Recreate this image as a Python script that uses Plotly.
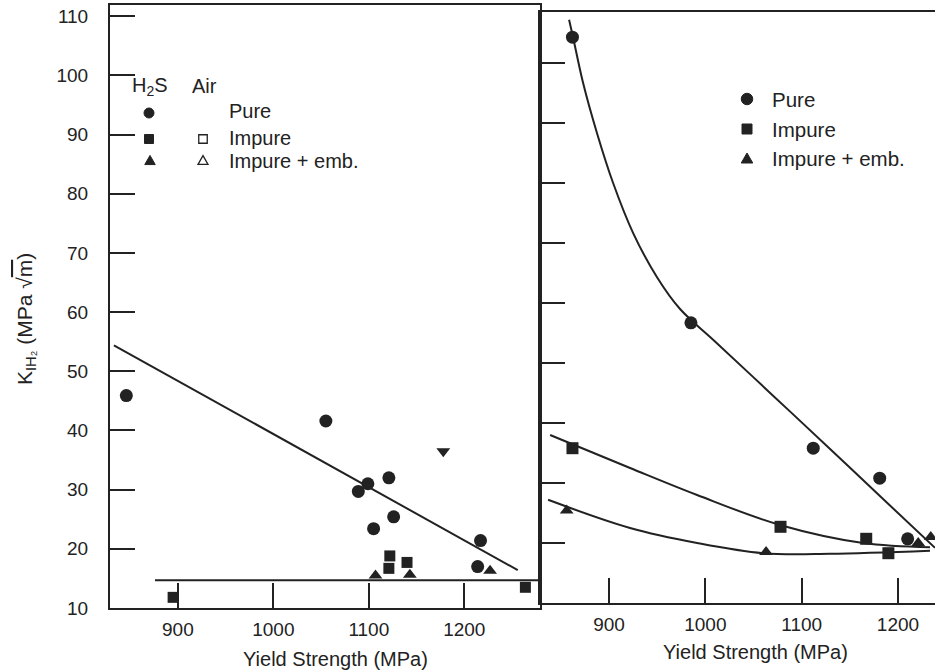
import plotly.graph_objects as go

# ---------------- data ----------------
# Left panel: H2S (filled) and Air (open) results
l_pure_x = [846, 1055, 1089, 1099, 1121, 1126, 1105, 1217, 1214]
l_pure_y = [45.9, 41.6, 29.7, 31.0, 32.0, 25.4, 23.4, 21.4, 17.0]
l_imp_x = [895, 1122, 1121, 1140, 1264]
l_imp_y = [11.8, 18.8, 16.7, 17.7, 13.5]
l_emb_x = [1107, 1143, 1227]
l_emb_y = [15.5, 15.6, 16.3]
l_inv_x = [1178]
l_inv_y = [36.5]
air_imp_x = [1108, 1109, 1132, 1255]
air_imp_y = [110.0, 94.6, 82.0, 76.8]
air_emb_x = [1102, 1221]
air_emb_y = [57.0, 38.3]
l_fit_x = [833, 1256]
l_fit_y = [54.4, 16.4]
l_base_x = [876, 1279]
l_base_y = [14.7, 14.7]

# Right panel
r_pure_x = [862, 985, 1112, 1181, 1210]
r_pure_y = [104.3, 56.7, 35.8, 30.8, 20.7]
r_imp_x = [862, 1078, 1167, 1190]
r_imp_y = [35.8, 22.7, 20.7, 18.3]
r_emb_x = [856, 1063, 1221, 1234]
r_emb_y = [25.4, 18.5, 20.0, 21.0]
c_pure_x = [858.5, 862.6, 873, 887.5, 904.2, 924.9, 949.8, 973.7, 1010, 1070, 1130, 1190, 1238.4]
c_pure_y = [107.2, 104.3, 96.7, 88.3, 80.0, 71.7, 64.3, 59.0, 53.6, 44.6, 35.6, 26.5, 19.2]
c_imp_x = [838.8, 921.8, 991.4, 1077.5, 1163.7, 1233.2]
c_imp_y = [38.0, 32.5, 28.0, 23.0, 20.0, 19.3]
c_emb_x = [836.7, 921.8, 991.4, 1059.9, 1129.4, 1233.2]
c_emb_y = [27.2, 22.5, 20.0, 18.3, 18.2, 18.7]

x_ticks = [900, 1000, 1100, 1200]
y_ticks = [10, 20, 30, 40, 50, 60, 70, 80, 90, 100, 110]

INK = "#222222"
FONT = "Liberation Sans, Arial, sans-serif"
W, H = 935, 670

fig = go.Figure()

def pts(x, y, sym, size, xa, ya, open_=False):
    fig.add_trace(go.Scatter(
        x=x, y=y, mode="markers", xaxis=xa, yaxis=ya,
        marker=dict(symbol=sym, size=size,
                    color="white" if open_ else INK,
                    line=dict(color=INK, width=1.3 if open_ else 0)),
        showlegend=False, hoverinfo="skip"))

def line(x, y, xa, ya, shape="linear"):
    fig.add_trace(go.Scatter(
        x=x, y=y, mode="lines", xaxis=xa, yaxis=ya,
        line=dict(color=INK, width=2, shape=shape, smoothing=1.0),
        showlegend=False, hoverinfo="skip"))

# left panel
line(l_fit_x, l_fit_y, "x", "y")
line(l_base_x, l_base_y, "x", "y")
pts(l_pure_x, l_pure_y, "circle", 13, "x", "y")
pts(l_imp_x, l_imp_y, "square", 11, "x", "y")
pts(l_emb_x, l_emb_y, "triangle-up", 12, "x", "y")
pts(l_inv_x, l_inv_y, "triangle-down", 12, "x", "y")
pts(air_imp_x, air_imp_y, "square-open", 10, "x", "y", open_=True)
pts(air_emb_x, air_emb_y, "triangle-up-open", 11, "x", "y", open_=True)

# right panel
line(c_pure_x, c_pure_y, "x2", "y2", "spline")
line(c_imp_x, c_imp_y, "x2", "y2", "spline")
line(c_emb_x, c_emb_y, "x2", "y2", "spline")
pts(r_pure_x, r_pure_y, "circle", 13, "x2", "y2")
pts(r_imp_x, r_imp_y, "square", 12, "x2", "y2")
pts(r_emb_x, r_emb_y, "triangle-up", 12, "x2", "y2")

axis_common = dict(showgrid=False, zeroline=False, showline=True, linecolor=INK,
                   linewidth=2, ticks="inside", ticklen=25, tickwidth=1.6,
                   tickcolor=INK, tickfont=dict(family=FONT, size=19, color=INK))

fig.update_layout(
    width=W, height=H, margin=dict(l=0, r=0, t=0, b=0, autoexpand=False),
    paper_bgcolor="white", plot_bgcolor="white",
    xaxis=dict(domain=[110 / W, 540 / W], range=[828.9, 1279.3],
               tickvals=x_ticks, mirror=True, ticklabelstandoff=3, **axis_common),
    yaxis=dict(domain=[1 - 608 / H, 1 - 5 / H], range=[10, 111.9],
               tickvals=y_ticks, mirror=True, ticklabelstandoff=16, **axis_common),
    xaxis2=dict(domain=[540 / W, 1.0], range=[828.3, 1238.4], anchor="y2",
                tickvals=x_ticks, mirror=True, ticklabelstandoff=3, **axis_common),
    yaxis2=dict(domain=[1 - 603 / H, 1 - 12 / H], range=[10, 108.5], anchor="x2",
                tickvals=y_ticks[1:10], showticklabels=False, **axis_common),
)

ann = []
def txt(px, py, s, size=20, xanchor="left", angle=0, yanchor="middle"):
    ann.append(dict(x=px / W, y=1 - py / H, xref="paper", yref="paper", text=s,
                    showarrow=False, xanchor=xanchor, yanchor=yanchor, textangle=angle,
                    font=dict(family=FONT, size=size, color=INK)))

shapes = []
def px2p(px, py):
    return px / W, 1 - py / H

def circ(cx, cy, d, filled=True):
    x0, y0 = px2p(cx - d / 2, cy + d / 2)
    x1, y1 = px2p(cx + d / 2, cy - d / 2)
    shapes.append(dict(type="circle", xref="paper", yref="paper", x0=x0, y0=y0, x1=x1, y1=y1,
                       fillcolor=INK if filled else "white", line=dict(color=INK, width=1)))

def sq(cx, cy, d, filled=True):
    x0, y0 = px2p(cx - d / 2, cy + d / 2)
    x1, y1 = px2p(cx + d / 2, cy - d / 2)
    shapes.append(dict(type="rect", xref="paper", yref="paper", x0=x0, y0=y0, x1=x1, y1=y1,
                       fillcolor=INK if filled else "white",
                       line=dict(color=INK, width=1 if filled else 1.3)))

def tri(cx, cy, d, filled=True):
    h = d * 0.87
    a = px2p(cx - d / 2, cy + h / 2)
    b = px2p(cx + d / 2, cy + h / 2)
    c = px2p(cx, cy - h / 2)
    path = f"M{a[0]},{a[1]} L{b[0]},{b[1]} L{c[0]},{c[1]} Z"
    shapes.append(dict(type="path", xref="paper", yref="paper", path=path,
                       fillcolor=INK if filled else "white",
                       line=dict(color=INK, width=1 if filled else 1.3)))

# left legend
txt(130, 86, "H<sub>2</sub>S", 20)
txt(190, 86, "Air", 20)
txt(227, 111, "Pure", 20)
txt(227, 138, "Impure", 20)
txt(227, 161, "Impure + emb.", 20)
circ(149, 113, 10)
sq(149, 139, 9)
tri(150, 160, 10.5)
sq(203, 139, 8.5, filled=False)
tri(203, 160, 10, filled=False)
# right legend
circ(747, 99, 11.5)
sq(747, 129, 10)
tri(747, 158, 11.5)
txt(770, 99, "Pure", 20.5)
txt(770, 129, "Impure", 20.5)
txt(770, 158, "Impure + emb.", 20.5)
# axis titles
txt(335, 659, "Yield Strength (MPa)", 20, "center")
txt(755, 652, "Yield Strength (MPa)", 20, "center")
txt(26, 319, "K<sub>IH₂</sub> (MPa √<span style='text-decoration:overline'>m</span>)",
    21, "center", -90)
fig.update_layout(annotations=ann, shapes=shapes)

fig.write_html("out.html", config={"displayModeBar": False},
               post_script="document.body.style.margin='0';")
